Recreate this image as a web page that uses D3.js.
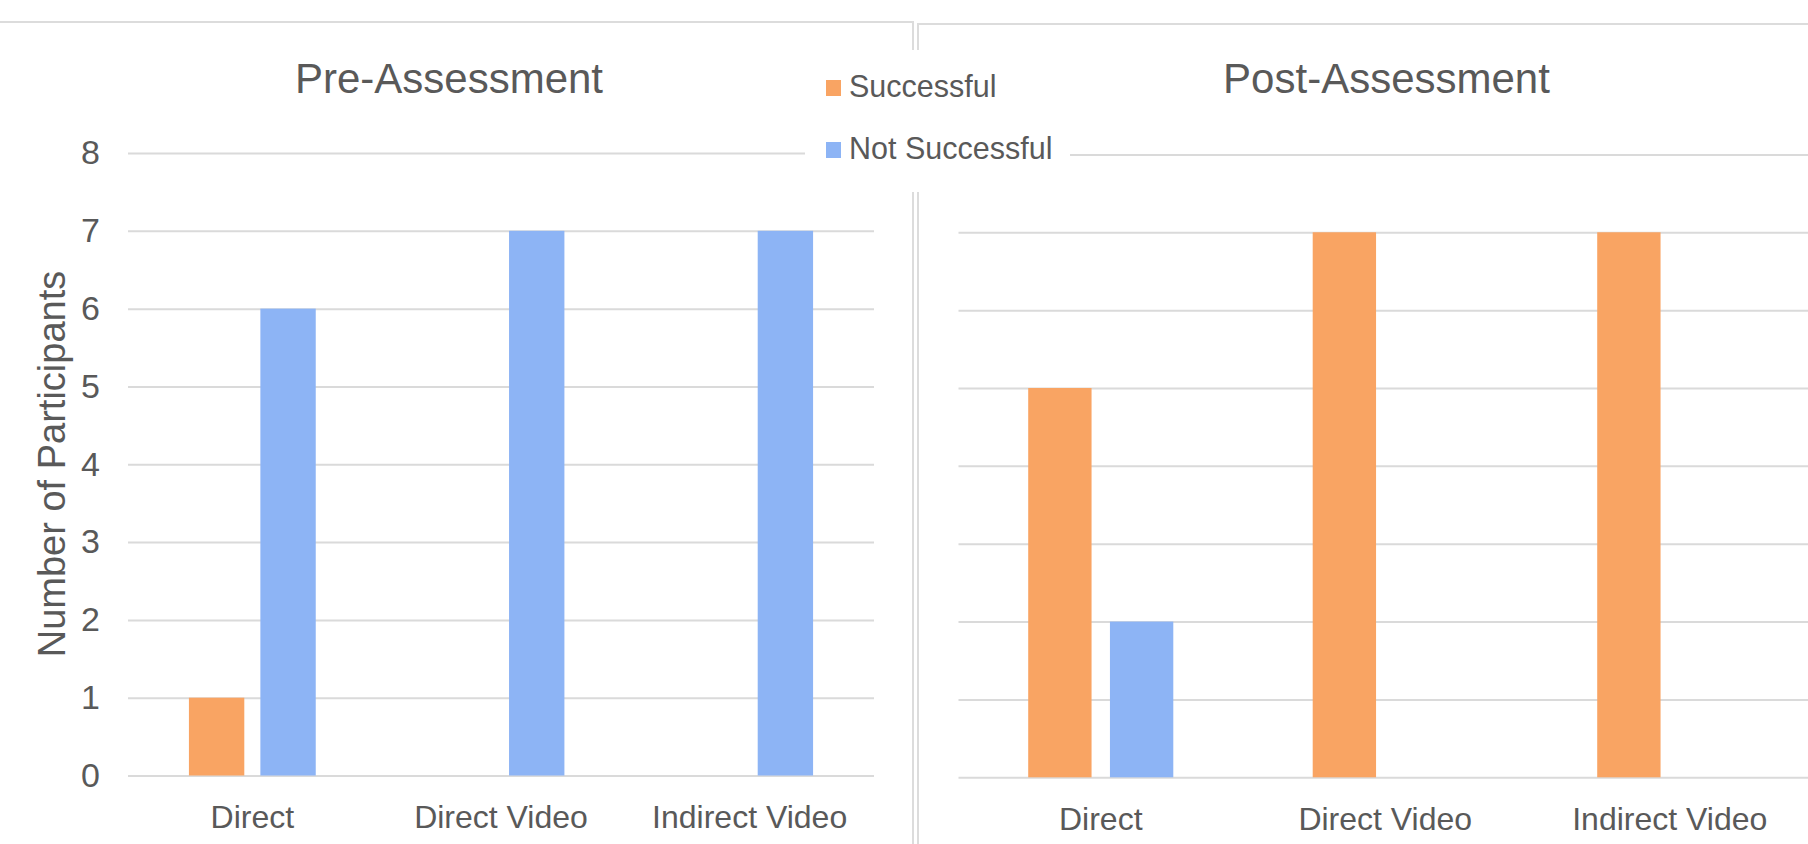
<!DOCTYPE html>
<html>
<head>
<meta charset="utf-8">
<script src="https://cdn.jsdelivr.net/npm/d3@7"></script>
<style>
  html, body { margin: 0; padding: 0; background: #ffffff; }
  svg { display: block; }
  text { font-family: "Liberation Sans", Arial, Helvetica, sans-serif; fill: #595959; }
</style>
</head>
<body>
<svg id="chart" width="1808" height="844"></svg>
<script>
// ---- Data ----
const categories = ["Direct", "Direct Video", "Indirect Video"];
const seriesNames = ["Successful", "Not Successful"];
const preSuccessful = [1, 0, 0];
const preNotSuccessful = [6, 7, 7];
const postSuccessful = [5, 7, 7];
const postNotSuccessful = [2, 0, 0];
const yTicks = [0, 1, 2, 3, 4, 5, 6, 7, 8];
const panelTitles = ["Pre-Assessment", "Post-Assessment"];
const yAxisTitle = "Number of Participants";

// ---- Styles ----
const colors = { "Successful": "#F9A463", "Not Successful": "#8DB4F5" };
const gridColor = "#dadada";
const borderColor = "#dcdcdc";

const svg = d3.select("#chart");
svg.append("rect").attr("width", 1808).attr("height", 844).attr("fill", "#ffffff");

// Panel borders
svg.append("path")
  .attr("d", "M0,22 H913 V844")
  .attr("fill", "none").attr("stroke", borderColor).attr("stroke-width", 2);
svg.append("path")
  .attr("d", "M1808,24 H918 V844")
  .attr("fill", "none").attr("stroke", borderColor).attr("stroke-width", 2);

const panels = [
  { title: panelTitles[0], titleX: 449, xRange: [128, 874], yRange: [775.5, 153], labels: true,
    values: [preSuccessful, preNotSuccessful] },
  { title: panelTitles[1], titleX: 1386.5, xRange: [958.5, 1812], yRange: [777.3, 154.4], labels: false,
    values: [postSuccessful, postNotSuccessful] }
];

panels.forEach(p => {
  const g = svg.append("g");
  const x0 = d3.scaleBand().domain(categories).range(p.xRange).padding(0);
  const groupW = x0.bandwidth() * 0.51;
  const x1 = d3.scaleBand().domain(seriesNames).range([0, groupW]).paddingInner(0.225).paddingOuter(0);
  const y = d3.scaleLinear().domain([0, 8]).range(p.yRange);

  // gridlines + y tick labels
  const yAxis = d3.axisLeft(y)
    .tickValues(yTicks)
    .tickSize(-(p.xRange[1] - p.xRange[0]))
    .tickPadding(28)
    .tickFormat(p.labels ? d3.format("d") : () => "");
  const ya = g.append("g").attr("transform", `translate(${p.xRange[0]},0)`).call(yAxis);
  ya.select(".domain").remove();
  ya.selectAll(".tick line").attr("stroke", gridColor).attr("stroke-width", 2);
  ya.selectAll(".tick text")
    .attr("font-size", 34)
    .attr("fill", "#595959")
    .style("font-family", "'Liberation Sans', Arial, sans-serif");

  // bars
  const rows = categories.map((c, i) => ({
    cat: c,
    vals: seriesNames.map((s, j) => ({ s, v: p.values[j][i] }))
  }));
  const groups = g.selectAll("g.grp").data(rows).join("g")
    .attr("class", "grp")
    .attr("transform", d => `translate(${x0(d.cat) + (x0.bandwidth() - groupW) / 2},0)`);
  groups.selectAll("rect").data(d => d.vals.filter(e => e.v > 0)).join("rect")
    .attr("x", d => x1(d.s))
    .attr("width", x1.bandwidth())
    .attr("y", d => y(d.v))
    .attr("height", d => y(0) - y(d.v))
    .attr("fill", d => colors[d.s]);

  // x axis labels
  const xAxis = d3.axisBottom(x0).tickSize(0).tickPadding(30);
  const xa = g.append("g").attr("transform", `translate(0,${p.yRange[0]})`).call(xAxis);
  xa.select(".domain").remove();
  xa.selectAll(".tick text")
    .attr("font-size", 32)
    .attr("fill", "#595959")
    .style("font-family", "'Liberation Sans', Arial, sans-serif");

  // title
  svg.append("text")
    .attr("x", p.titleX).attr("y", 93)
    .attr("text-anchor", "middle")
    .attr("font-size", 42)
    .text(p.title);
});

// Y axis title
svg.append("text")
  .attr("transform", "translate(65,464) rotate(-90)")
  .attr("text-anchor", "middle")
  .attr("font-size", 38)
  .text(yAxisTitle);

// Legend (with white background covering gridlines / borders)
const legend = svg.append("g");
legend.append("rect")
  .attr("x", 805).attr("y", 50).attr("width", 265).attr("height", 142)
  .attr("fill", "#ffffff");
const legendRows = [
  { s: seriesNames[0], y: 97 },
  { s: seriesNames[1], y: 159 }
];
const lg = legend.selectAll("g.li").data(legendRows).join("g").attr("class", "li");
lg.append("rect")
  .attr("x", 826).attr("y", d => d.y - 17)
  .attr("width", 15).attr("height", 16)
  .attr("fill", d => colors[d.s]);
lg.append("text")
  .attr("x", 849).attr("y", d => d.y)
  .attr("font-size", 30.5)
  .text(d => d.s);
</script>
</body>
</html>
